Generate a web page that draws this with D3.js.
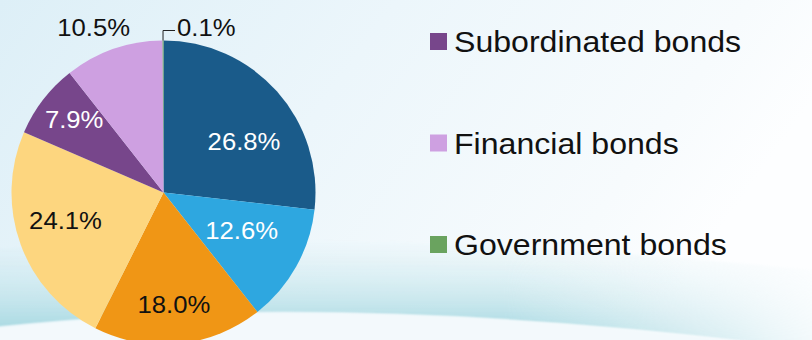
<!DOCTYPE html>
<html>
<head>
<meta charset="utf-8">
<script src="https://cdn.jsdelivr.net/npm/d3@7"></script>
<style>
  html, body { margin: 0; padding: 0; background: #ffffff; }
  svg { display: block; font-family: "Liberation Sans", Arial, sans-serif; }
</style>
</head>
<body>
<svg id="chart" width="812" height="340"></svg>
<script>
// Bond holdings by type, share of total (%), clockwise from 12 o'clock
const categories = [
  "Policy bank bonds",
  "Enterprise bonds",
  "Medium-term notes",
  "Short-term financing bills",
  "Subordinated bonds",
  "Financial bonds",
  "Government bonds"
];
const shares = [26.8, 12.6, 18.0, 24.1, 7.9, 10.5, 0.1];
const sliceColors = ["#1a5b8a", "#2ea7e0", "#f09615", "#fdd67f", "#77468b", "#cea0e1", "#6aa35f"];
const labelInk = ["#ffffff", "#ffffff", "#111111", "#111111", "#ffffff", "#111111", "#111111"];
// Legend shows the last three series only
const legendItems = ["Subordinated bonds", "Financial bonds", "Government bonds"];

// Label placement: distance from centre and angular nudge (degrees) per slice
const labelRadius = [95, 87, 113, 102, 115, 179, null];
const labelTurn = [9.7, -3.1, 0.5, 3.9, 1.4, -3.7, 0];

const W = 812, H = 340;
const cx = 163.5, cy = 192.5, R = 152;
const stretch = 1.07; // glyphs are drawn slightly wide

const svg = d3.select("#chart");
const defs = svg.append("defs");

// ---- background wash ----
const bgGrad = defs.append("linearGradient").attr("id", "bg").attr("x1", 0).attr("x2", 1).attr("y1", 0).attr("y2", 0.3);
bgGrad.append("stop").attr("offset", 0).attr("stop-color", "#ddeff7");
bgGrad.append("stop").attr("offset", 0.45).attr("stop-color", "#ecf6fb");
bgGrad.append("stop").attr("offset", 0.85).attr("stop-color", "#f7fbfd");
bgGrad.append("stop").attr("offset", 1).attr("stop-color", "#fdfeff");
svg.append("rect").attr("width", W).attr("height", H).attr("fill", "url(#bg)");

// teal haze that thickens toward the swoosh edge
const haze = defs.append("linearGradient").attr("id", "haze").attr("x1", 0).attr("x2", 0).attr("y1", 0).attr("y2", 1);
haze.append("stop").attr("offset", 0).attr("stop-color", "#c4e6ec").attr("stop-opacity", 0);
haze.append("stop").attr("offset", 0.5).attr("stop-color", "#b5dfe6").attr("stop-opacity", 0.6);
haze.append("stop").attr("offset", 0.85).attr("stop-color", "#9ed5de").attr("stop-opacity", 0.95);
haze.append("stop").attr("offset", 1).attr("stop-color", "#88cbd6").attr("stop-opacity", 1);

const fadeRight = defs.append("linearGradient").attr("id", "fadeR").attr("x1", 0).attr("x2", 1).attr("y1", 0).attr("y2", 0);
fadeRight.append("stop").attr("offset", 0).attr("stop-color", "#fff").attr("stop-opacity", 1);
fadeRight.append("stop").attr("offset", 0.62).attr("stop-color", "#fff").attr("stop-opacity", 1);
fadeRight.append("stop").attr("offset", 0.95).attr("stop-color", "#fff").attr("stop-opacity", 0.2);
fadeRight.append("stop").attr("offset", 1).attr("stop-color", "#fff").attr("stop-opacity", 0.1);
defs.append("mask").attr("id", "hazeMask")
  .append("rect").attr("width", W).attr("height", H).attr("fill", "url(#fadeR)");

defs.append("filter").attr("id", "soft")
  .append("feGaussianBlur").attr("stdDeviation", 1.2);

const edgeBack = "Q 350,288 -10,328 Z";
svg.append("path")
  .attr("d", `M -10,250 Q 350,222 830,272 L 830,352 ${edgeBack}`)
  .attr("fill", "url(#haze)")
  .attr("mask", "url(#hazeMask)")
  .attr("filter", "url(#soft)");

// pale floor below the swoosh
svg.append("path")
  .attr("d", "M -10,328 Q 350,288 830,352 L 830,350 L -10,350 Z")
  .attr("fill", "#f3f9fc")
  .attr("filter", "url(#soft)");

// ---- pie ----
const pie = d3.pie().sort(null).value(d => d);
const arcs = pie(shares);
const arc = d3.arc().innerRadius(0).outerRadius(R);

const g = svg.append("g").attr("transform", `translate(${cx},${cy})`);
g.selectAll("path.slice")
  .data(arcs)
  .join("path")
  .attr("class", "slice")
  .attr("d", arc)
  .attr("fill", (d, i) => sliceColors[i]);

const fontLabel = 24;
function polar(r, a) { return [r * Math.sin(a), -r * Math.cos(a)]; }

arcs.forEach((d, i) => {
  const mid = (d.startAngle + d.endAngle) / 2;
  const label = d3.format(".1f")(shares[i]) + "%";
  if (labelRadius[i] !== null) {
    const [x, y] = polar(labelRadius[i], mid + labelTurn[i] * Math.PI / 180);
    g.append("text")
      .attr("transform", `translate(${x},${y}) scale(${stretch},1)`)
      .attr("text-anchor", "middle")
      .attr("dominant-baseline", "central")
      .attr("font-size", fontLabel)
      .attr("fill", labelInk[i])
      .text(label);
  } else {
    // tiny slice: elbow leader up and to the right
    const [x0, y0] = polar(R, mid);
    const yTop = y0 - 10;
    g.append("path")
      .attr("d", `M${x0},${y0} L${x0},${yTop} L${x0 + 12},${yTop}`)
      .attr("fill", "none")
      .attr("stroke", "#222")
      .attr("stroke-width", 1);
    g.append("text")
      .attr("transform", `translate(${x0 + 14},${yTop}) scale(${stretch},1)`)
      .attr("dominant-baseline", "central")
      .attr("font-size", fontLabel)
      .attr("fill", labelInk[i])
      .attr("dy", "-0.12em")
      .text(label);
  }
});

// ---- legend ----
const legendY = d3.scalePoint().domain(legendItems).range([33, 236]);
const legend = svg.append("g");
const items = legend.selectAll("g.item")
  .data(legendItems)
  .join("g")
  .attr("class", "item")
  .attr("transform", d => `translate(430,${legendY(d)})`);
items.append("rect")
  .attr("width", 17).attr("height", 17)
  .attr("fill", d => sliceColors[categories.indexOf(d)]);
items.append("text")
  .attr("transform", `translate(24,19) scale(${stretch},1)`)
  .attr("font-size", 30)
  .attr("fill", "#111")
  .text(d => d);
</script>
</body>
</html>
